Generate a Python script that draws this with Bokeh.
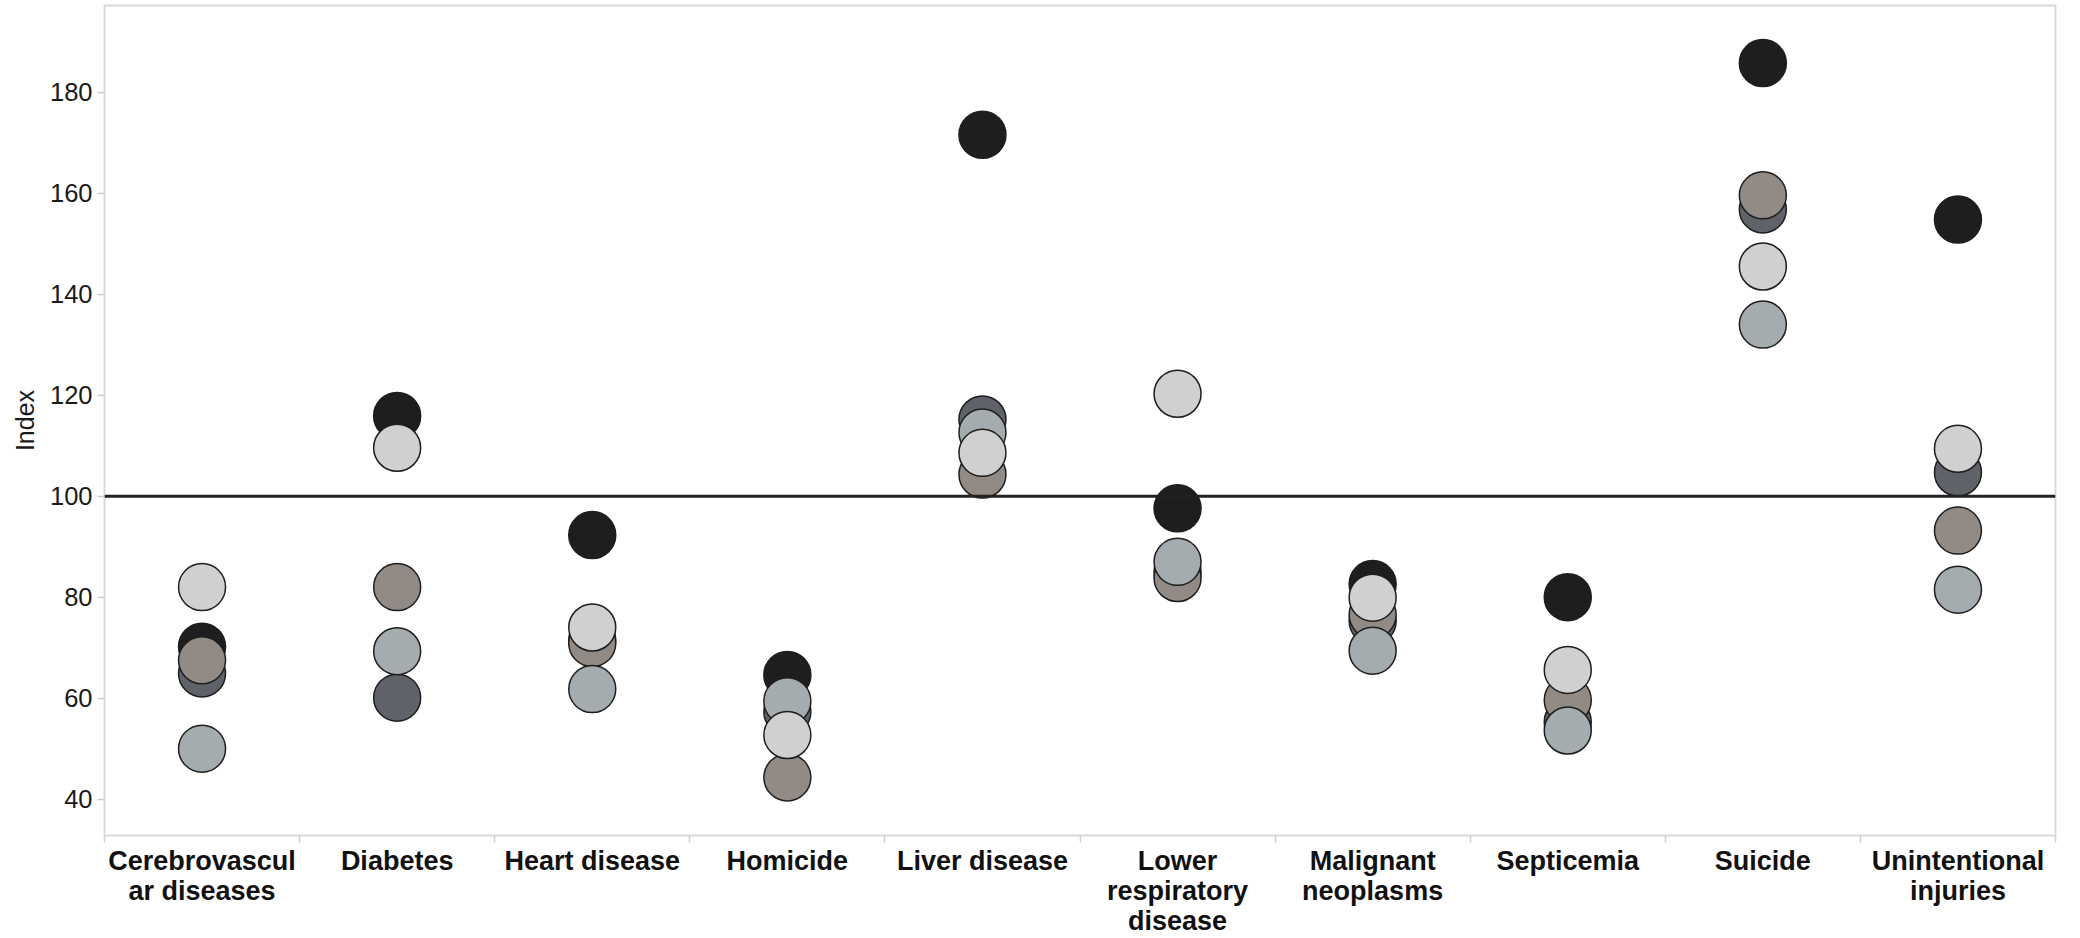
from bokeh.plotting import figure
from bokeh.models import Range1d, FixedTicker, Span
from bokeh.embed import file_html
from bokeh.resources import INLINE

categories = ["Cerebrovascular diseases", "Diabetes", "Heart disease", "Homicide",
              "Liver disease", "Lower respiratory disease", "Malignant neoplasms",
              "Septicemia", "Suicide", "Unintentional injuries"]
category_labels = ["Cerebrovascul\nar diseases", "Diabetes", "Heart disease", "Homicide",
                   "Liver disease", "Lower\nrespiratory\ndisease", "Malignant\nneoplasms",
                   "Septicemia", "Suicide", "Unintentional\ninjuries"]

y_ticks = [40, 60, 80, 100, 120, 140, 160, 180]
reference_value = 100

# series drawn bottom-to-top in this order
series_names = ["Group 1", "Group 2", "Group 3", "Group 4", "Group 5"]
series_colors = ["#1e1e1e", "#5f6369", "#918a85", "#a5acaf", "#d0d0d0"]
group1 = [70.2, 115.9, 92.3, 64.6, 171.6, 97.6, 82.6, 80.0, 185.8, 154.8]
group2 = [64.9, 60.1, 71.5, 57.3, 115.2, 85.0, 75.3, 55.3, 156.8, 104.7]
group3 = [67.5, 82.0, 70.9, 44.3, 104.3, 83.8, 76.5, 59.6, 159.6, 93.2]
group4 = [50.0, 69.3, 61.8, 59.4, 112.6, 87.0, 69.4, 53.6, 134.0, 81.5]
group5 = [82.0, 109.6, 74.0, 52.7, 108.6, 120.3, 79.9, 65.6, 145.5, 109.4]
series_values = [group1, group2, group3, group4, group5]

n = len(categories)
x_pos = [i + 0.5 for i in range(n)]

p = figure(width=2080, height=938, output_backend="svg", toolbar_location=None,
           x_range=Range1d(0, n), y_range=Range1d(32.8, 197.2),
           min_border_left=104, min_border_right=25, min_border_top=5, min_border_bottom=100)
p.background_fill_color = "white"
p.border_fill_color = "white"
p.outline_line_color = "#d9d9d9"
p.outline_line_width = 2
p.grid.visible = False

for name, color, vals in zip(series_names, series_colors, series_values):
    p.scatter(x=x_pos, y=vals, size=47, fill_color=color, line_color="#1e1e1e",
              line_width=1.5, name=name)

p.add_layout(Span(location=reference_value, dimension="width", line_color="#222222", line_width=3))

xa = p.xaxis[0]
xa.ticker = FixedTicker(ticks=x_pos, minor_ticks=list(range(n + 1)))
xa.major_label_overrides = {x: lab for x, lab in zip(x_pos, category_labels)}
xa.axis_line_color = None
xa.major_tick_line_color = None
xa.minor_tick_line_color = "#d0d0d0"
xa.minor_tick_line_width = 1.5
xa.minor_tick_out = 7
xa.minor_tick_in = 0
xa.major_label_standoff = 3
xa.major_label_text_font = "Liberation Sans"
xa.major_label_text_font_style = "bold"
xa.major_label_text_font_size = "27px"
xa.major_label_text_line_height = 1.0
xa.major_label_text_color = "#111111"

ya = p.yaxis[0]
ya.ticker = FixedTicker(ticks=y_ticks)
ya.axis_line_color = None
ya.major_tick_line_color = "#cccccc"
ya.major_tick_line_width = 1.5
ya.major_tick_out = 7
ya.major_tick_in = 0
ya.minor_tick_line_color = None
ya.major_label_standoff = 5
ya.major_label_text_font = "Liberation Sans"
ya.major_label_text_font_size = "25.5px"
ya.major_label_text_color = "#1a1a1a"
ya.axis_label = "Index"
ya.axis_label_text_font = "Liberation Sans"
ya.axis_label_text_font_style = "normal"
ya.axis_label_text_font_size = "25px"
ya.axis_label_text_color = "#1a1a1a"
ya.axis_label_standoff = 8

open("out.html", "w").write(file_html(p, INLINE))
